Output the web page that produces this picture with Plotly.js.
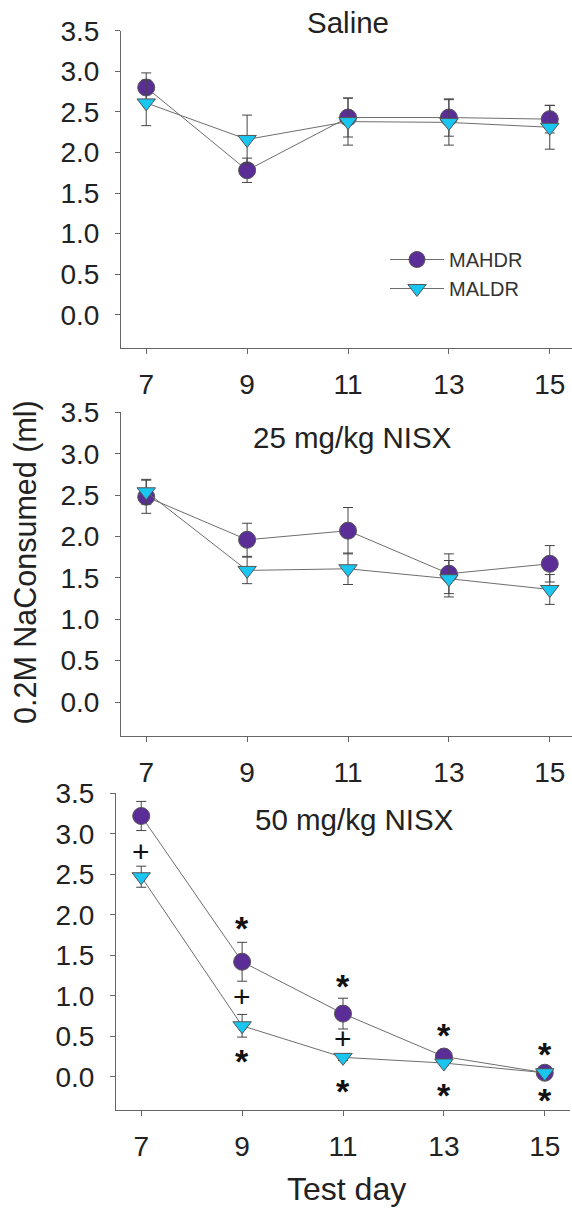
<!DOCTYPE html>
<html>
<head>
<meta charset="utf-8">
<script src="https://cdn.plot.ly/plotly-3.0.1.min.js"></script>
<style>
  html, body { margin: 0; padding: 0; background: #fff; overflow: hidden; }
  #chart { width: 576px; height: 1210px; }
</style>
</head>
<body>
<div id="chart"></div>
<script>
// Test days
const days = [7, 9, 11, 13, 15];
const dayTicks = ['7', '9', '11', '13', '15'];

// Saline
const salineMAHDR = [2.80, 1.78, 2.43, 2.43, 2.41];
const salineMAHDRerr = [0.18, 0.15, 0.24, 0.23, 0.17];
const salineMALDR = [2.61, 2.16, 2.38, 2.37, 2.31];
const salineMALDRerr = [0.28, 0.30, 0.29, 0.28, 0.27];

// 25 mg/kg NISX
const nisx25MAHDR = [2.48, 1.96, 2.07, 1.55, 1.67];
const nisx25MAHDRerr = [0.20, 0.20, 0.28, 0.24, 0.22];
const nisx25MALDR = [2.54, 1.59, 1.61, 1.49, 1.36];
const nisx25MALDRerr = [0.15, 0.16, 0.19, 0.22, 0.18];

// 50 mg/kg NISX
const nisx50MAHDR = [3.22, 1.42, 0.78, 0.25, 0.05];
const nisx50MAHDRerr = [0.18, 0.24, 0.19, 0.04, 0.03];
const nisx50MALDR = [2.47, 0.63, 0.24, 0.17, 0.05];
const nisx50MALDRerr = [0.13, 0.14, 0.04, 0.03, 0.02];

// Significance marks in the 50 mg/kg panel
const sigDays = [7, 9, 9, 9, 11, 11, 11, 13, 13, 15, 15];
const sigY = [2.78, 1.89, 0.99, 0.25, 1.17, 0.47, -0.12, 0.56, -0.18, 0.33, -0.24];
const sigText = ['+', '*', '+', '*', '*', '+', '*', '*', '*', '*', '*'];

const panelTitles = ['Saline', '25 mg/kg NISX', '50 mg/kg NISX'];

const W = 576, H = 1210;
const FONT = 'Liberation Sans, Arial, sans-serif';
const purple = '#5b2d96';
const cyan = '#18c6f0';
const lineGrey = '#6e6e6e';

const panels = [
  { hd: salineMAHDR, hdErr: salineMAHDRerr, ld: salineMALDR, ldErr: salineMALDRerr,
    xpx: [121, 575], ypx: [30.7, 348] },
  { hd: nisx25MAHDR, hdErr: nisx25MAHDRerr, ld: nisx25MALDR, ldErr: nisx25MALDRerr,
    xpx: [121, 575], ypx: [412.3, 736] },
  { hd: nisx50MAHDR, hdErr: nisx50MAHDRerr, ld: nisx50MALDR, ldErr: nisx50MALDRerr,
    xpx: [116, 570], ypx: [793.3, 1110] }
];

const traces = [];
const layout = {
  width: W, height: H,
  margin: { l: 0, r: 0, t: 0, b: 0 },
  paper_bgcolor: '#fff', plot_bgcolor: '#fff',
  font: { family: FONT, color: '#222' },
  showlegend: true,
  legend: {
    x: 385 / W, y: 1 - 240 / H, xanchor: 'left', yanchor: 'top',
    bgcolor: 'rgba(0,0,0,0)', itemwidth: 54,
    font: { family: FONT, size: 20, color: '#333' },
    tracegroupgap: 0
  },
  annotations: [],
  shapes: []
};

panels.forEach((p, i) => {
  const n = i === 0 ? '' : String(i + 1);
  const xa = 'x' + n, ya = 'y' + n;
  const common = {
    x: days, mode: 'lines+markers', xaxis: xa, yaxis: ya,
    line: { color: lineGrey, width: 1 }, cliponaxis: false
  };
  traces.push(Object.assign({}, common, {
    name: 'MAHDR', y: p.hd, showlegend: i === 0, legendgroup: 'hd',
    marker: { symbol: 'circle', size: 17, color: purple, line: { color: '#555', width: 1 } },
    error_y: { type: 'data', array: p.hdErr, visible: true, color: '#444', thickness: 1, width: 5 }
  }));
  traces.push(Object.assign({}, common, {
    name: 'MALDR', y: p.ld, showlegend: i === 0, legendgroup: 'ld',
    marker: { symbol: 'triangle-down', size: 16, color: cyan, line: { color: '#555', width: 1 } },
    error_y: { type: 'data', array: p.ldErr, visible: true, color: '#444', thickness: 1, width: 5 }
  }));

  layout['xaxis' + n] = {
    domain: [p.xpx[0] / W, p.xpx[1] / W], anchor: ya,
    range: [6.5, 15.5], tickmode: 'array', tickvals: days, ticktext: dayTicks,
    showgrid: false, zeroline: false, showline: true, linecolor: '#666', linewidth: 1,
    ticks: 'outside', ticklen: 5, tickcolor: '#666', tickwidth: 1,
    ticklabelstandoff: 6,
    tickfont: { family: FONT, size: 28, color: '#222' }, fixedrange: true
  };
  layout['yaxis' + n] = {
    domain: [1 - p.ypx[1] / H, 1 - p.ypx[0] / H], anchor: xa,
    range: [-0.41, 3.5], tickmode: 'array',
    tickvals: [0, 0.5, 1, 1.5, 2, 2.5, 3, 3.5], tickformat: '.1f',
    showgrid: false, zeroline: false, showline: true, linecolor: '#666', linewidth: 1,
    ticks: 'outside', ticklen: 5, tickcolor: '#666', tickwidth: 1,
    ticklabelstandoff: 10,
    tickfont: { family: FONT, size: 28, color: '#222' }, fixedrange: true
  };
});

// Panel titles
const titlePos = [[348, 22], [352, 438], [354, 819]];
panelTitles.forEach((t, i) => {
  layout.annotations.push({
    text: t, xref: 'paper', yref: 'paper', x: titlePos[i][0] / W, y: 1 - titlePos[i][1] / H,
    xanchor: 'center', yanchor: 'middle', showarrow: false,
    font: { family: FONT, size: 29.5, color: '#222' }
  });
});

// Shared axis titles
layout.annotations.push({
  text: '0.2M NaConsumed (ml)', xref: 'paper', yref: 'paper', x: 25 / W, y: 1 - 562 / H,
  xanchor: 'center', yanchor: 'middle', textangle: -90, showarrow: false,
  font: { family: FONT, size: 30.5, color: '#222' }
});
layout.annotations.push({
  text: 'Test day', xref: 'paper', yref: 'paper', x: 346 / W, y: 1 - 1189 / H,
  xanchor: 'center', yanchor: 'middle', showarrow: false,
  font: { family: FONT, size: 32, color: '#222' }
});

// Significance marks
sigDays.forEach((d, k) => {
  const isStar = sigText[k] === '*';
  layout.annotations.push({
    text: sigText[k], xref: 'x3', yref: 'y3', x: d, y: sigY[k],
    xanchor: 'center', yanchor: 'middle', showarrow: false,
    yshift: isStar ? -4 : 0,
    font: { family: FONT, size: isStar ? 34 : 30, color: '#111', weight: isStar ? 'bold' : 'normal' }
  });
});

Plotly.newPlot('chart', traces, layout, { staticPlot: true, displayModeBar: false });
</script>
</body>
</html>
